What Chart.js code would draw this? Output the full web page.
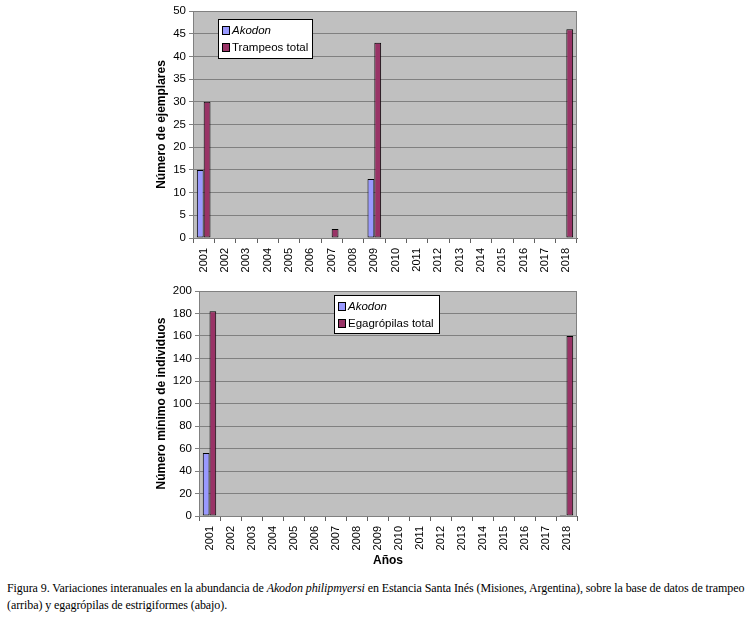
<!DOCTYPE html>
<html>
<head>
<meta charset="utf-8">
<script src="https://cdn.jsdelivr.net/npm/chart.js@4.4.0/dist/chart.umd.min.js"></script>
<style>
  body { margin: 0; background: #fff; width: 756px; height: 619px; position: relative; overflow: hidden; }
  canvas { position: absolute; left: 0; }
  #top { top: 0; }
  #bottom { top: 280px; }
  #caption {
    position: absolute; left: 7px; top: 580px; width: 749px;
    font-family: 'Liberation Serif', serif; font-size: 12px; line-height: 17px;
    letter-spacing: -0.08px; color: #000; white-space: nowrap;
  }
</style>
</head>
<body>
<canvas id="top" width="756" height="280"></canvas>
<canvas id="bottom" width="756" height="290"></canvas>
<div id="caption">Figura 9. Variaciones interanuales en la abundancia de <i>Akodon philipmyersi</i> en Estancia Santa Inés (Misiones, Argentina), sobre la base de datos de trampeo<br>(arriba) y egagrópilas de estrigiformes (abajo).</div>
<script>
// Años y datos
const years = ['2001', '2002', '2003', '2004', '2005', '2006', '2007', '2008', '2009',
               '2010', '2011', '2012', '2013', '2014', '2015', '2016', '2017', '2018'];

// Trampeo (arriba)
const akodonTrampeo = [15, null, null, null, null, null, null, null, 13,
                       null, null, null, null, null, null, null, null, null];
const trampeosTotal = [30, null, null, null, null, null, 2, null, 43,
                       null, null, null, null, null, null, null, null, 46];

// Egagrópilas (abajo)
const akodonEgagropilas = [56, null, null, null, null, null, null, null, null,
                           null, null, null, null, null, null, null, null, 1];
const egagropilasTotal = [182, null, null, null, null, null, null, null, null,
                          null, null, null, null, null, null, null, null, 160];

const topTicks = { max: 50, step: 5 };
const bottomTicks = { max: 200, step: 20 };

const COLORS = {
    akodon: '#9999ff',
    total: '#993366',
    plot: '#c0c0c0',
    grid: '#808080'
};

Chart.defaults.font.family = "'Liberation Sans', Arial, sans-serif";
Chart.defaults.font.size = 11;
Chart.defaults.color = '#000';

// Fondo gris del área de trazado y leyenda en recuadro
const plotArea = {
    id: 'plotArea',
    beforeDraw(chart) {
        const { ctx, chartArea: a } = chart;
        ctx.save();
        ctx.fillStyle = COLORS.plot;
        ctx.fillRect(a.left, a.top, a.right - a.left, a.bottom - a.top);
        ctx.restore();
    },
    afterDraw(chart, args, opts) {
        const { ctx, chartArea: a } = chart;
        ctx.save();
        ctx.strokeStyle = COLORS.grid;
        ctx.lineWidth = 1;
        ctx.strokeRect(Math.round(a.left) + 0.5, Math.round(a.top) + 0.5,
                       Math.round(a.right - a.left) - 1, Math.round(a.bottom - a.top));

        // leyenda
        const b = opts.box;
        ctx.fillStyle = '#fff';
        ctx.fillRect(b.x, b.y, b.w, b.h);
        ctx.strokeStyle = '#000';
        ctx.strokeRect(b.x + 0.5, b.y + 0.5, b.w - 1, b.h - 1);
        chart.data.datasets.forEach((ds, i) => {
            const cy = b.y + 11 + i * 17;
            ctx.fillStyle = ds.backgroundColor;
            ctx.fillRect(b.x + 4, cy - 4, 7, 8);
            ctx.strokeStyle = '#000';
            ctx.strokeRect(b.x + 4.5, cy - 3.5, 7, 8);
            ctx.fillStyle = '#000';
            ctx.font = (i === 0 ? 'italic ' : '') + "11.5px 'Liberation Sans', Arial, sans-serif";
            ctx.textBaseline = 'middle';
            ctx.fillText(ds.label, b.x + 14, cy + 1);
        });
        ctx.restore();
    }
};

function makeChart(id, series, labels, ticks, cfg) {
    return new Chart(document.getElementById(id), {
        type: 'bar',
        data: {
            labels: years,
            datasets: [
                { label: labels[0], data: series[0], backgroundColor: COLORS.akodon,
                  borderColor: '#000', borderWidth: 1, borderSkipped: false },
                { label: labels[1], data: series[1], backgroundColor: COLORS.total,
                  borderColor: '#000', borderWidth: 1, borderSkipped: false }
            ]
        },
        options: {
            responsive: false,
            animation: false,
            layout: { padding: { left: 150, right: 179, top: 11, bottom: 0 } },
            datasets: { bar: { categoryPercentage: 0.64, barPercentage: 1 } },
            plugins: {
                legend: { display: false },
                tooltip: { enabled: false },
                plotArea: { box: cfg.legend }
            },
            scales: {
                x: {
                    offset: true,
                    grid: { offset: true, drawOnChartArea: false, tickLength: 5, color: '#606060' },
                    border: { color: '#606060' },
                    ticks: { minRotation: 90, maxRotation: 90, padding: 5, autoSkip: false },
                    title: cfg.xTitle ? { display: true, text: cfg.xTitle,
                        font: { weight: 'bold', size: 12 }, padding: { top: 2, bottom: 2 } } : { display: false },
                    afterFit(scale) { scale.height = cfg.xHeight; }
                },
                y: {
                    min: 0,
                    max: ticks.max,
                    ticks: { stepSize: ticks.step, padding: 3, font: { size: 11.5 } },
                    grid: { color: COLORS.grid, tickLength: 4 },
                    border: { color: '#606060' },
                    title: { display: true, text: cfg.yTitle,
                        font: { weight: 'bold', size: 12 }, padding: { top: 4, bottom: 4 } },
                    afterFit(scale) { scale.width = cfg.yWidth; }
                }
            }
        },
        plugins: [plotArea]
    });
}

makeChart('top', [akodonTrampeo, trampeosTotal], ['Akodon', 'Trampeos total'], topTicks, {
    yTitle: 'Número de ejemplares',
    yWidth: 43,
    xHeight: 42,
    legend: { x: 218, y: 19, w: 95, h: 40 }
});

makeChart('bottom', [akodonEgagropilas, egagropilasTotal], ['Akodon', 'Egagrópilas total'], bottomTicks, {
    yTitle: 'Número mínimo de individuos',
    xTitle: 'Años',
    yWidth: 49,
    xHeight: 54,
    legend: { x: 334, y: 15, w: 106, h: 39 }
});
</script>
</body>
</html>
